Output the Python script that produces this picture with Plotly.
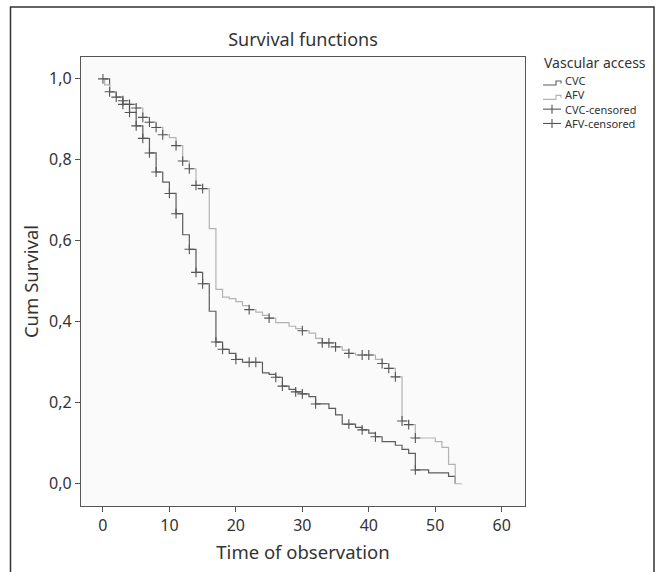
import numpy as np
import plotly.graph_objects as go

# ---- data (Kaplan-Meier step functions) ----
cvc_time = [0, 1, 2, 3, 4, 5, 6, 7, 8, 9, 10, 11, 12, 13, 14, 15, 16, 17, 18, 19, 20, 21,
            24, 25, 26, 27, 28, 29, 30, 31, 32, 34, 35, 36, 38, 39, 40, 41, 42, 44, 45, 46,
            47, 49, 52, 53]
cvc_surv = [1.0, 0.968, 0.955, 0.937, 0.917, 0.884, 0.853, 0.817, 0.770, 0.745, 0.717, 0.667,
            0.615, 0.579, 0.522, 0.494, 0.426, 0.350, 0.332, 0.322, 0.307, 0.300,
            0.274, 0.270, 0.263, 0.241, 0.233, 0.227, 0.222, 0.215, 0.197, 0.186, 0.170, 0.147,
            0.139, 0.133, 0.125, 0.116, 0.104, 0.095, 0.085, 0.075,
            0.034, 0.027, 0.018, 0.0]
cvc_censored = [0, 1, 2, 3, 4, 5, 6, 7, 8, 10, 11, 13, 14, 15, 17, 18, 20, 22, 23, 26, 27,
                29, 30, 32, 37, 39, 41, 47]

afv_time = [0, 0.25, 1, 2, 3, 4, 5, 6, 7, 8, 9, 10, 11, 12, 13, 14, 15, 16, 17, 18, 19, 20,
            21, 22, 23, 24, 25, 26, 28, 29, 30, 31, 32, 33, 35, 36, 37, 38, 41, 42, 43, 44,
            45, 46, 47, 50, 51, 52, 53, 54]
afv_surv = [1.0, 0.985, 0.968, 0.955, 0.946, 0.937, 0.928, 0.905, 0.893, 0.880, 0.862, 0.855,
            0.835, 0.797, 0.778, 0.737, 0.729, 0.630, 0.480, 0.461, 0.457, 0.450,
            0.440, 0.430, 0.424, 0.416, 0.409, 0.398, 0.389, 0.383, 0.378, 0.372, 0.359, 0.348,
            0.338, 0.330, 0.322, 0.318, 0.307, 0.297, 0.285, 0.264,
            0.155, 0.146, 0.113, 0.104, 0.090, 0.048, 0.0, 0.0]
afv_censored = [3, 4, 5, 6, 7, 8, 9, 11, 12, 13, 14, 15, 22, 25, 30, 33, 34, 35, 37, 39, 40,
                42, 43, 44, 45, 46, 47]

x_ticks = [0, 10, 20, 30, 40, 50, 60]
y_ticks = [0.0, 0.2, 0.4, 0.6, 0.8, 1.0]

legend_title = "Vascular access"
legend_labels = ["CVC", "AFV", "CVC-censored", "AFV-censored"]


def step_value(times, surv, t):
    idx = np.searchsorted(np.asarray(times, dtype=float), t, side="right") - 1
    return [surv[i] for i in idx]


cvc_cens_y = step_value(cvc_time, cvc_surv, cvc_censored)
afv_cens_y = step_value(afv_time, afv_surv, afv_censored)

DARK = "#5c5c5c"
LIGHT = "#b3b3b3"
MARK = "#555555"
TXT = "#333333"
FONT = "Noto Sans"

W, H = 662, 572
L, R, T, B = 81, 137, 57, 66
PW, PH = W - L - R, H - T - B


def px(X):
    return (X - L) / PW


def py(Y):
    return 1 - (Y - T) / PH


fig = go.Figure()
fig.add_trace(go.Scatter(x=cvc_time, y=cvc_surv, mode="lines", line_shape="hv",
                         line=dict(color=DARK, width=1.2), name=legend_labels[0],
                         showlegend=False))
fig.add_trace(go.Scatter(x=afv_time, y=afv_surv, mode="lines", line_shape="hv",
                         line=dict(color=LIGHT, width=1.2), name=legend_labels[1],
                         showlegend=False))
fig.add_trace(go.Scatter(x=cvc_censored, y=cvc_cens_y, mode="markers", name=legend_labels[2],
                         showlegend=False,
                         marker=dict(symbol="cross-thin", size=7,
                                     line=dict(color=MARK, width=1.1))))
fig.add_trace(go.Scatter(x=afv_censored, y=afv_cens_y, mode="markers", name=legend_labels[3],
                         showlegend=False,
                         marker=dict(symbol="cross-thin", size=7,
                                     line=dict(color=MARK, width=1.1))))

fig.update_layout(
    width=W, height=H,
    margin=dict(l=L, r=R, t=T, b=B),
    paper_bgcolor="white",
    plot_bgcolor="#fafafa",
    separators=",.",
    font=dict(family=FONT, color=TXT),
    title=dict(text="Survival functions", x=(L + PW / 2) / W, xanchor="center",
               y=1 - 39.5 / H, yanchor="middle", font=dict(size=18, color=TXT)),
    showlegend=False,
    xaxis=dict(range=[-3.3, 63.5], tickvals=x_ticks, ticks="outside", ticklen=5,
               tickcolor="#555", showgrid=False, zeroline=False,
               showline=True, linecolor="#555", linewidth=1.2, mirror=True,
               tickfont=dict(size=16, color=TXT),
               title=dict(text="Time of observation", font=dict(size=18.5, color=TXT),
                          standoff=10)),
    yaxis=dict(range=[-0.055, 1.054], tickvals=y_ticks, tickformat=".1f", ticks="outside",
               ticklen=5, tickcolor="#555", showgrid=False, zeroline=False,
               showline=True, linecolor="#555", linewidth=1.2, mirror=True,
               tickfont=dict(size=16, color=TXT),
               title=dict(text="Cum Survival", font=dict(size=18.5, color=TXT),
                          standoff=5)),
)

# outer frame around the whole figure
fig.add_shape(type="rect", xref="paper", yref="paper",
              x0=px(10.5), x1=px(654), y0=py(600), y1=py(7),
              line=dict(color="#333", width=1.5), fillcolor="rgba(0,0,0,0)", layer="below")

# ---- legend drawn in the SPSS style ----
LEG_FS = 11
spacing = 1.3 * LEG_FS
center = 102
item_y = [center + (i - 1.5) * spacing for i in range(len(legend_labels))]

fig.add_annotation(text=legend_title, xref="paper", yref="paper", x=px(543), y=py(63),
                   xanchor="left", yanchor="middle", showarrow=False, borderpad=0,
                   font=dict(size=14, color=TXT))
fig.add_annotation(text="<br>".join(legend_labels), xref="paper", yref="paper",
                   x=px(564), y=py(center), xanchor="left", yanchor="middle", align="left",
                   showarrow=False, borderpad=0, font=dict(size=LEG_FS, color=TXT))

# step icons for the survival lines
for yy, col in [(item_y[0], DARK), (item_y[1], LIGHT)]:
    path = (f"M {px(543)},{py(yy + 4.5)} L {px(556)},{py(yy + 4.5)} L {px(556)},{py(yy + 0.5)} "
            f"L {px(561)},{py(yy + 0.5)} L {px(561)},{py(yy + 3)}")
    fig.add_shape(type="path", xref="paper", yref="paper", path=path,
                  line=dict(color=col, width=1.1))
# cross icons for censored marks
for yy in item_y[2:]:
    fig.add_shape(type="line", xref="paper", yref="paper", x0=px(543), x1=px(561),
                  y0=py(yy), y1=py(yy), line=dict(color=MARK, width=1.1))
    fig.add_shape(type="line", xref="paper", yref="paper", x0=px(552), x1=px(552),
                  y0=py(yy - 4.5), y1=py(yy + 4.5), line=dict(color=MARK, width=1.1))

fig.write_html("out.html", post_script="document.body.style.margin='0';",
               config={"displayModeBar": False})
